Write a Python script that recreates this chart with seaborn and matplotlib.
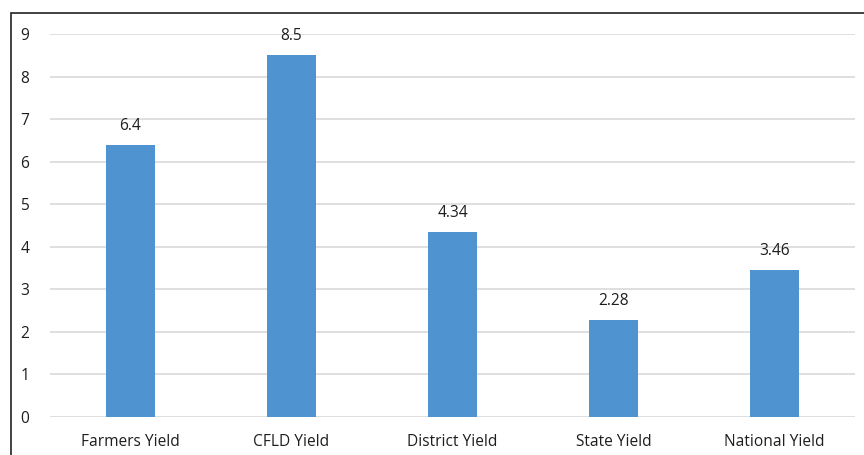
import matplotlib
matplotlib.use("Agg")
import matplotlib.pyplot as plt
import seaborn as sns
import pandas as pd
from matplotlib.patches import Rectangle

# data
categories = ["Farmers Yield", "CFLD Yield", "District Yield", "State Yield", "National Yield"]
yields = [6.4, 8.5, 4.34, 2.28, 3.46]
value_labels = ["6.4", "8.5", "4.34", "2.28", "3.46"]
y_ticks = [0, 1, 2, 3, 4, 5, 6, 7, 8, 9]

df = pd.DataFrame({"category": categories, "yield": yields})

sns.set_style("white")
plt.rcParams["font.family"] = ["Open Sans", "DejaVu Sans"]

fig = plt.figure(figsize=(8.64, 4.55), dpi=100)
ax = fig.add_axes([50 / 864, 38 / 455, 805 / 864, 383 / 455])

sns.barplot(data=df, x="category", y="yield", color="#4F94D0", saturation=1,
            width=0.31, linewidth=0, ax=ax, zorder=3)

ax.set_ylim(0, 9)
ax.set_xlim(-0.5, 4.5)
ax.set_yticks(y_ticks)
ax.yaxis.grid(True, color="#D9D9D9", linewidth=1.2, zorder=0)
ax.set_axisbelow(True)
for s in ax.spines.values():
    s.set_visible(False)
ax.set_xlabel("")
ax.set_ylabel("")
ax.tick_params(axis="both", length=0, labelsize=11.2, labelcolor="#1e1e1e")
ax.tick_params(axis="y", pad=15)
ax.tick_params(axis="x", pad=12)

for i, (v, lab) in enumerate(zip(yields, value_labels)):
    ax.annotate(lab, (i, v), xytext=(0, 8), textcoords="offset points",
                ha="center", va="bottom", fontsize=11.2, color="#1e1e1e")

# outer chart frame (extends past right and bottom edges)
fig.patches.append(Rectangle((11 / 864, -0.1), 1.2, (455 - 13) / 455 + 0.1,
                             transform=fig.transFigure, fill=False,
                             edgecolor="#222222", linewidth=1.2))

fig.savefig("out.png", dpi=100)
